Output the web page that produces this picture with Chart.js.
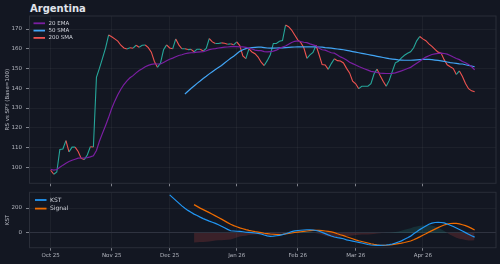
<!DOCTYPE html>
<html>
<head>
<meta charset="utf-8">
<script src="https://cdn.jsdelivr.net/npm/chart.js@4.4.1/dist/chart.umd.min.js"></script>
<style>
  html, body { margin: 0; padding: 0; background: #131722; }
  #wrap { position: relative; width: 500px; height: 264px; overflow: hidden; background: #131722; }
  #title { position: absolute; left: 30px; top: 4px; font: bold 10px 'DejaVu Sans'; line-height: 10px; color: #e0e3eb; }
  canvas { position: absolute; left: 0; }
  #top { top: 0; }
  #bottom { top: 188px; }
</style>
</head>
<body>
<div id="wrap">
  <div id="title">Argentina</div>
  <canvas id="top" width="500" height="188"></canvas>
  <canvas id="bottom" width="500" height="76"></canvas>
</div>
<script>
// x = trading day index, 0 = first bar (early Oct 25)
const monthTicks = [0, 20, 39, 61, 81, 100, 122];
const monthLabels = ['Oct 25', 'Nov 25', 'Dec 25', 'Jan 26', 'Feb 26', 'Mar 26', 'Apr 26'];
const rsTicks = [100, 110, 120, 130, 140, 150, 160, 170];
const kstTicks = [0, 200];

// relative strength vs SPY, one value per bar
const rs = [98.5, 96.5, 97.6, 109, 109.3, 113.5, 107.8, 110.2, 110.2, 108,
  104.5, 103.9, 106.2, 110.4, 110.3, 145.5, 150.2, 155.3, 160.5, 167,
  166.1, 165, 163.9, 161.8, 160.4, 159.9, 160.5, 160.3, 161.8, 160.8,
  161.8, 161.9, 160.6, 158.3, 153.6, 150.6, 152.8, 159.5, 162, 160.4,
  160, 165, 162, 160, 160, 159.6, 159.7, 158.5, 159.8, 159.8,
  158.9, 160.2, 165.2, 163.5, 162.7, 162.7, 163, 162.8, 162.3, 162.5,
  162, 163.5, 161.6, 156.4, 155, 160, 158.4, 157.5, 155.8, 153.2,
  151.5, 154, 157, 162.7, 162.7, 163.8, 164.2, 172, 171.2, 169.5,
  167, 164.5, 163.1, 160.5, 155.2, 156.9, 158.2, 161.8, 157, 152,
  151.8, 149.6, 152.5, 155, 154, 153.8, 152.8, 150.1, 147.8, 143.6,
  142.3, 139.8, 141, 141, 141.1, 142.3, 147.2, 149.7, 146.5, 143.6,
  141, 144, 148.6, 152.9, 153.7, 155.4, 156.7, 157.7, 158.5, 160.5,
  164, 166.2, 165, 164.1, 162.5, 161.2, 159.7, 158.3, 157.8, 154.5,
  151.9, 150.9, 150, 147, 148.8, 146, 142.4, 139.8, 138.7, 138.2];

const ema20 = [99, 98.6, 98.9, 100, 101.1, 102.1, 102.9, 103.6, 104.1, 104.6,
  104.7, 104.7, 104.9, 105.3, 105.8, 108.5, 113.3, 117.3, 121.2, 125.3,
  129.8, 133.5, 136.7, 139.5, 141.9, 143.8, 145.3, 146.4, 147.8, 149,
  149.9, 150.9, 151.6, 152.1, 152.4, 152.3, 152.3, 153.1, 153.9, 154.7,
  155.3, 156, 156.6, 157, 157.5, 157.8, 158, 158.1, 158.3, 158.4,
  158.5, 159, 159.6, 159.9, 160.1, 160.4, 160.6, 160.8, 160.9, 161.1,
  161.2, 161.1, 161, 161, 160.7, 160.3, 159.9, 159.3, 159.1, 159.1,
  158.6, 158.4, 158.6, 158.8, 159.3, 160.2, 160.9, 161.4, 162.3, 163.2,
  163.8, 164, 163.6, 163.3, 163.1, 162.5, 162, 161.5, 160.3, 159.5,
  159.3, 158.6, 158, 157.8, 156.9, 155.9, 155.2, 154.3, 153.2, 152.5,
  151.8, 151, 150.4, 149.8, 149.2, 148.6, 148.3, 148, 147.7, 147.6,
  147.5, 147.5, 147.6, 147.8, 148.3, 148.8, 149.4, 150, 150.6, 151.7,
  152.7, 153.7, 154.8, 155.8, 156.5, 157.1, 157.4, 157.7, 157.8, 157.6,
  157.3, 156.6, 155.8, 155.1, 154.5, 153.6, 152.9, 152.1, 150.9, 149.4];

const sma50Start = 44;
const sma50 = [137.1, 138.5, 139.9, 141.2, 142.5, 143.7, 145, 146.1, 147.3, 148.4,
  149.5, 150.5, 151.5, 152.8, 154, 155.2, 156.2, 157.5, 158.7, 159.5,
  160.1, 160.4, 160.6, 160.7, 160.8, 160.8, 160.6, 160.4, 160.3, 160.3,
  160.4, 160.5, 160.5, 160.6, 160.7, 160.8, 160.9, 161, 161, 161,
  161, 161, 161, 161, 160.9, 160.8, 160.6, 160.5, 160.3, 160.1,
  159.9, 159.7, 159.5, 159.2, 158.9, 158.6, 158.3, 158, 157.7, 157.4,
  157.1, 156.8, 156.5, 156.2, 155.9, 155.6, 155.3, 155, 154.8, 154.6,
  154.4, 154.3, 154.2, 154.2, 154.2, 154.3, 154.4, 154.5, 154.6, 154.6,
  154.6, 154.5, 154.3, 154.1, 153.9, 153.6, 153.3, 153, 152.8, 152.6,
  152.4, 152.3, 151.9, 151.6, 151.3, 150.9];

const kstStart = 39;
const kst = [305, 283, 261, 239, 217, 198, 181, 166, 151, 140,
  127, 115, 105, 95, 86, 77, 66, 54, 42, 29,
  18, 16, 14, 13, 10, 6, 5, 3, 0, -3,
  -8, -16, -23, -27, -25, -22, -19, -13, -6, 2,
  11, 17, 20, 22, 24, 26, 26, 24, 20, 14,
  5, -5, -15, -24, -32, -37, -41, -46, -55, -60,
  -65, -70, -75, -80, -86, -92, -96, -98, -99, -99,
  -98, -96, -93, -88, -81, -72, -63, -50, -38, -25,
  -6, 10, 27, 42, 56, 70, 79, 84, 85, 84,
  81, 72, 62, 52, 40, 28, 16, 3, -10, -22,
  -33];

const signalStart = 47;
const signal = [227, 213, 199, 187, 175, 163, 150, 137, 124, 111,
  97, 83, 70, 59, 50, 41, 34, 27, 21, 16,
  11, 7, 3, -2, -5, -8, -10, -12, -13, -11,
  -7, -3, 0, 4, 7, 10, 13, 16, 19, 21,
  22, 21, 19, 16, 13, 9, 3, -6, -14, -21,
  -30, -38, -46, -55, -62, -68, -74, -80, -86, -91,
  -95, -98, -99, -98, -96, -93, -89, -85, -81, -76,
  -70, -64, -54, -43, -31, -18, -6, 7, 19, 31,
  43, 54, 64, 71, 76, 78, 77, 73, 66, 59,
  49, 37, 24];

const UP = '#26a69a', DOWN = '#ef5350';
const GRID = 'rgba(255,255,255,0.045)', FRAME = '#2a2e39', TICKC = '#80838c', TEXT = '#b2b5be';
const X_MIN = -6.95, X_MAX = 146;

Chart.defaults.font.family = "'DejaVu Sans'";
Chart.defaults.font.size = 5.5;
Chart.defaults.color = TEXT;

const toPoints = (arr, start) => arr.map((y, k) => ({ x: start + k, y }));
const hist = signal.map((s, k) => ({ x: signalStart + k, y: kst[signalStart - kstStart + k] - s }));

const frame = {
  id: 'frame',
  beforeDatasetsDraw(chart) {
    const { ctx, chartArea: a } = chart;
    ctx.save();
    ctx.strokeStyle = FRAME;
    ctx.lineWidth = 1;
    ctx.strokeRect(a.left, a.top, a.right - a.left, a.bottom - a.top);
    ctx.restore();
  }
};

// small legend drawn inside the plot, top left
const insetLegend = {
  id: 'insetLegend',
  afterDraw(chart, args, opts) {
    const { ctx, chartArea } = chart;
    const items = chart.data.datasets.filter(d => d.inLegend);
    ctx.save();
    ctx.font = opts.size + "px 'DejaVu Sans'";
    ctx.textBaseline = 'middle';
    items.forEach((d, k) => {
      const x = chartArea.left + opts.left;
      const y = chartArea.top + opts.top + k * opts.step;
      ctx.strokeStyle = d.borderColor;
      ctx.lineWidth = 1.8;
      ctx.beginPath();
      ctx.moveTo(x, y);
      ctx.lineTo(x + opts.len, y);
      ctx.stroke();
      ctx.fillStyle = '#d1d4dc';
      ctx.fillText(d.label, x + opts.len + opts.gap, y);
    });
    ctx.restore();
  }
};

function xScale(showLabels, height) {
  return {
    type: 'linear', min: X_MIN, max: X_MAX,
    afterBuildTicks: s => { s.ticks = monthTicks.map(v => ({ value: v })); },
    afterFit: s => { s.height = height; s.paddingLeft = 0; s.paddingRight = 0; },
    grid: { color: GRID, tickColor: TICKC, tickLength: 3 },
    border: { display: false },
    ticks: { display: showLabels, padding: 2, maxRotation: 0, autoSkip: false,
      callback: (v, i) => monthLabels[i] }
  };
}

function yScale(min, max, ticks, title, gridColor) {
  return {
    min, max,
    afterBuildTicks: s => { s.ticks = ticks.map(v => ({ value: v })); },
    afterFit: s => { s.width = 29.5; s.paddingTop = 0; s.paddingBottom = 0; },
    grid: { color: gridColor || GRID, tickColor: TICKC, tickLength: 3.5 },
    border: { display: false },
    ticks: { padding: 4 },
    title: { display: true, text: title, color: TEXT, padding: { top: 4, bottom: 0 }, font: { size: 5.5 } }
  };
}

const common = {
  responsive: false, animation: false, devicePixelRatio: 1,
  elements: { point: { radius: 0 }, line: { tension: 0 } },
};

new Chart(document.getElementById('top'), {
  type: 'line',
  data: {
    datasets: [
      { label: '20 EMA', inLegend: true, data: toPoints(ema20, 0), borderColor: '#7b1fa2', borderWidth: 1.2 },
      { label: '50 SMA', inLegend: true, data: toPoints(sma50, sma50Start), borderColor: '#42a5f5', borderWidth: 1.2 },
      { label: '200 SMA', inLegend: true, data: [], borderColor: '#ef5350', borderWidth: 1.2 },
      { label: 'RS', data: toPoints(rs, 0), borderWidth: 1.1, borderColor: UP,
        segment: { borderColor: c => c.p1.parsed.y >= c.p0.parsed.y ? UP : DOWN } }
    ]
  },
  options: {
    ...common,
    layout: { padding: { top: 16, right: 4, bottom: 0, left: 0 } },
    scales: {
      x: xScale(false, 4.7),
      y: yScale(91.9, 176.6, rsTicks, 'RS vs SPY (Base=100)')
    },
    plugins: {
      legend: { display: false }, tooltip: { enabled: false },
      insetLegend: { left: 4, top: 7.3, step: 7.3, len: 11.5, gap: 3.5, size: 5.5 }
    }
  },
  plugins: [frame, insetLegend]
});

new Chart(document.getElementById('bottom'), {
  type: 'line',
  data: {
    datasets: [
      { label: 'KST', inLegend: true, data: toPoints(kst, kstStart), borderColor: '#2196f3', borderWidth: 1.2 },
      { label: 'Signal', inLegend: true, data: toPoints(signal, signalStart), borderColor: '#ef6c00', borderWidth: 1.2 },
      { label: 'Hist', data: hist, borderWidth: 0, borderColor: 'rgba(0,0,0,0)',
        fill: { target: { value: 0 }, above: 'rgba(38,166,154,0.18)', below: 'rgba(239,83,80,0.18)' } }
    ]
  },
  options: {
    ...common,
    layout: { padding: { top: 4.3, right: 4, bottom: 0, left: 0 } },
    scales: {
      x: xScale(true, 16.3),
      y: yScale(-117.6, 325.6, kstTicks, 'KST', c => c.tick.value === 0 ? '#2f3340' : GRID)
    },
    plugins: {
      legend: { display: false }, tooltip: { enabled: false },
      insetLegend: { left: 5.5, top: 7.7, step: 8.6, len: 11.5, gap: 3.5, size: 6 }
    }
  },
  plugins: [frame, insetLegend]
});
</script>
</body>
</html>
